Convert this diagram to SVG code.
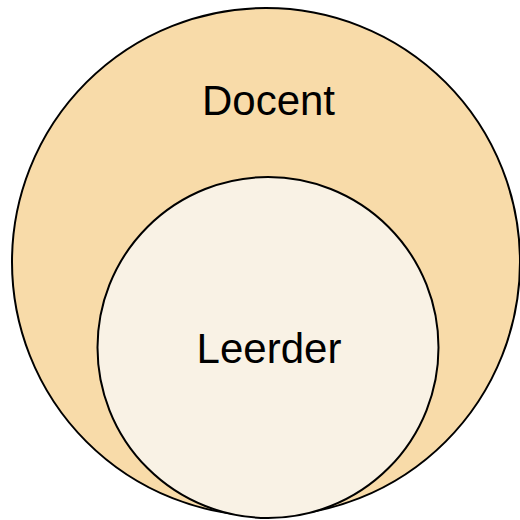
<svg xmlns="http://www.w3.org/2000/svg" width="520" height="520" viewBox="0 0 520 520">
<style>
.lbl{font-family:"Liberation Sans",Arial,sans-serif;font-size:42px;fill:#000;text-anchor:middle}
circle{stroke:#000;stroke-width:2}
</style>
<rect width="520" height="520" fill="#fff"/>
<g id="docent">
<circle cx="266" cy="262" r="254" fill="#f8dba9"/>
<text class="lbl" x="268.5" y="115">Docent</text>
</g>
<g id="leerder">
<circle cx="268" cy="347.5" r="170.5" fill="#f9f2e5"/>
<text class="lbl" x="269" y="363">Leerder</text>
</g>
<g id="connectors"></g>
</svg>
